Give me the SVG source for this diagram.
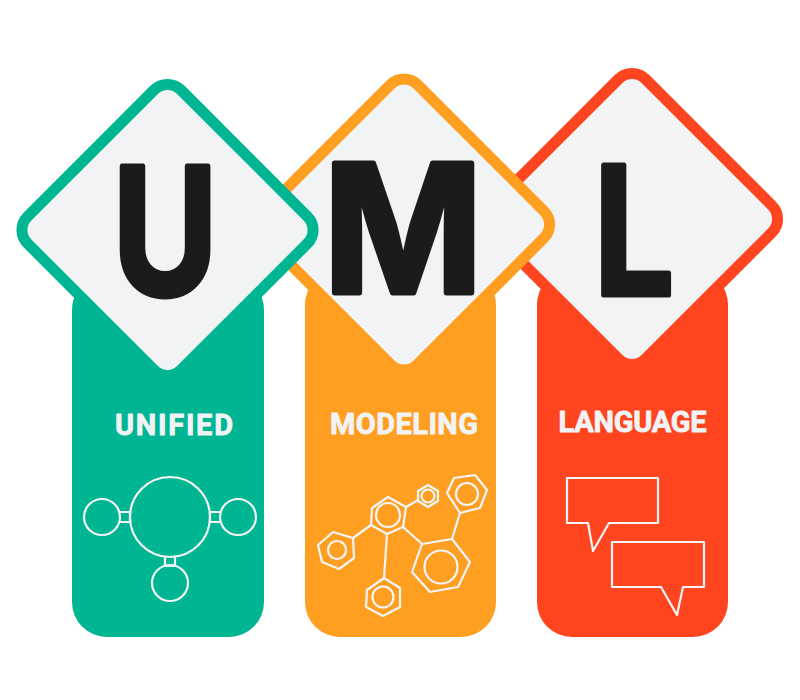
<svg xmlns="http://www.w3.org/2000/svg" width="800" height="700" viewBox="0 0 800 700">
<style>
.line{fill:none;stroke:#f4f5f7;stroke-width:2.200;stroke-linejoin:round}
.dia{fill:#f2f3f5;stroke-width:11}
.big{font-family:"Inter","Liberation Sans",sans-serif;font-weight:700;font-size:178px;fill:#1b1b1b;stroke:#1b1b1b;stroke-width:5;stroke-linejoin:round;text-anchor:middle}
.sub{font-family:"Roboto","Liberation Sans",sans-serif;font-weight:700;font-size:29px;fill:#f2f3f5;stroke:#f2f3f5;stroke-width:0.800;stroke-linejoin:round;text-anchor:middle}
</style>
<rect width="800" height="700" fill="#fff"/>
<g id="node-l">
<path d="M537 305Q537 292 546 280H719Q728 292 728 305V602a35 35 0 0 1-35 35H572a35 35 0 0 1-35-35Z" fill="#ff4520"/>
<rect class="dia" stroke="#ff4520" x="523.500" y="110.500" width="217" height="217" rx="19" transform="rotate(45 632 219)"/>
<text class="big" transform="translate(634 295) scale(0.8 1)">L</text>
<text class="sub" x="632.500" y="432" textLength="148" lengthAdjust="spacing">LANGUAGE</text>
<path class="line" d="M567 478H658V523H609L593 551L588 523H567Z"/>
<path class="line" d="M612 542H704V587H683L677 615L661 587H612Z"/>
</g>
<g id="node-m">
<path d="M305 305Q305 292 314 280H487Q496 292 496 305V602a35 35 0 0 1-35 35H340a35 35 0 0 1-35-35Z" fill="#ff9f22"/>
<rect class="dia" stroke="#ff9f22" x="295.500" y="116" width="217" height="217" rx="19" transform="rotate(45 404 224.500)"/>
<text class="big" transform="translate(403 292.500) scale(0.965 1)">M</text>
<text class="sub" x="404" y="434" textLength="148" lengthAdjust="spacing">MODELING</text>
<g class="line">
<path d="M447 493L454 478L475 475L487 490L480 508L460 513Z"/><circle cx="467" cy="494" r="11"/>
<path d="M418 491L428 485L438 491L438 501L428 507L418 501Z"/><circle cx="428" cy="496" r="6.500"/>
<path d="M372 508L388 497L406 507L403 527L387 534L371 525Z"/><circle cx="388" cy="515" r="12"/>
<path d="M318 545L333 532L353 538L354 558L339 569L322 562Z"/><circle cx="337" cy="550" r="9"/>
<path d="M367 590L384 578L400 588L400 607L383 616L366 607Z"/><circle cx="383" cy="597" r="10.500"/>
<path d="M422 544L452 539L470 562L458 587L430 592L412 572Z"/><circle cx="441" cy="567" r="16.500"/>
<path d="M406 507L418 500M371 525L353 538M387 534L384 578M403 527L422 544M452 539L460 513"/>
</g>
</g>
<g id="node-u">
<path d="M72 310Q72 297 81 285H255Q264 297 264 310V602a35 35 0 0 1-35 35H107a35 35 0 0 1-35-35Z" fill="#00b592"/>
<rect class="dia" stroke="#00b592" x="59" y="121.500" width="217" height="217" rx="19" transform="rotate(45 167.500 230)"/>
<text class="big" transform="translate(165 294.500) scale(0.81 1)">U</text>
<text class="sub" x="174" y="435" textLength="118" lengthAdjust="spacing">UNIFIED</text>
<g class="line">
<circle cx="170" cy="517" r="40"/><circle cx="102" cy="517" r="18"/><circle cx="238" cy="517" r="18"/><circle cx="170" cy="583" r="18"/>
<path d="M119 512H130V522H119M221 512H210V522H221M165 556V566H175V556"/>
</g>
</g>
</svg>
